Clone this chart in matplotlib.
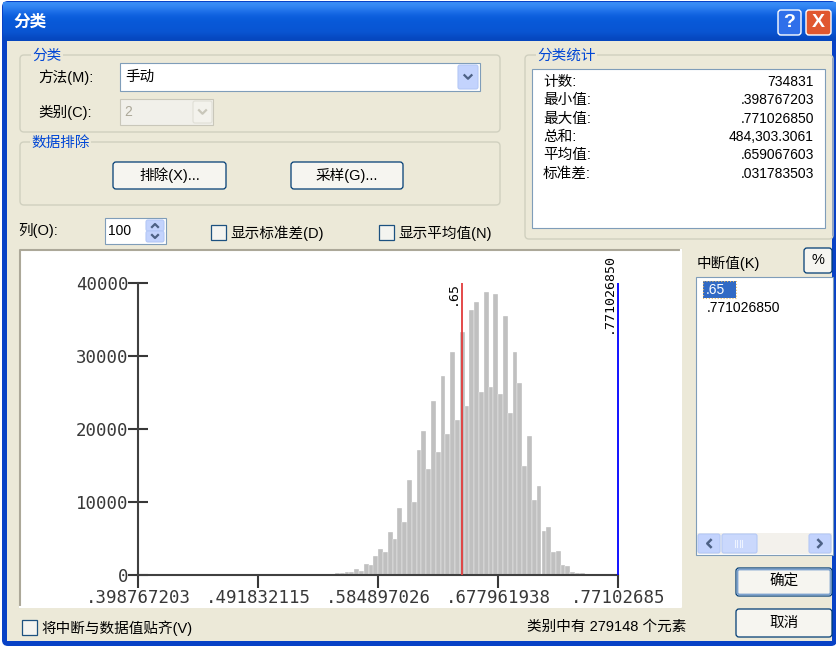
import numpy as np
import matplotlib.pyplot as plt
from matplotlib.patches import Rectangle, FancyBboxPatch
from matplotlib.transforms import blended_transform_factory, offset_copy

plt.rcParams['font.family'] = ['Liberation Sans', 'Noto Sans CJK SC']

# histogram: 100 columns between min and max
x_min = 0.398767203
x_max = 0.771026850
counts = [0] * 38 + [20, 60, 120, 230, 230, 410, 410, 780, 600, 1500, 1330, 2600,
                     3500, 3100, 5850, 4900, 9150, 7300, 13000, 10050, 17150, 19700,
                     14600, 23860, 16900, 27340, 19300, 30630, 21260, 33370, 23180, 36300,
                     37400, 25140, 38760, 25730, 38540, 24780, 35520, 22260, 30630, 26290,
                     14950, 19110, 10290, 12200, 6080, 6630, 3200, 3300, 1370, 1200,
                     460, 230, 230] + [0] * 7
xtick_labels = ['.398767203', '.491832115', '.584897026', '.677961938', '.77102685']
yticks = [0, 10000, 20000, 30000, 40000]
breaks = [0.65, 0.771026850]
break_labels = ['.65', '.771026850']
break_colors = ['#E23C3C', '#0000FF']

stat_names = ['计数:', '最小值:', '最大值:', '总和:', '平均值:', '标准差:']
stat_values = ['734831', '.398767203', '.771026850', '484,303.3061', '.659067603', '.031783503']

W, H = 837, 646
BEIGE = '#ECE9D8'
GROUP_EC = '#D0D0BF'
GROUP_TITLE = '#0046D5'
FIELD_EC = '#7F9DB9'
BTN_EC = '#003C74'
XPBTN = '#C3D3FD'

fig = plt.figure(figsize=(W / 100, H / 100), dpi=100)
fig.patch.set_facecolor('white')
bg = fig.add_axes([0, 0, 1, 1])
bg.set_xlim(0, W)
bg.set_ylim(H, 0)
bg.axis('off')


def box(x0, y0, x1, y1, fc, ec='none', lw=0.8, r=0, z=1, ls='-'):
    if r:
        p = FancyBboxPatch((x0, y0), x1 - x0, y1 - y0,
                           boxstyle="round,pad=0,rounding_size=%s" % r,
                           fc=fc, ec=ec, lw=lw, zorder=z, ls=ls)
    else:
        p = Rectangle((x0, y0), x1 - x0, y1 - y0, fc=fc, ec=ec, lw=lw, zorder=z, ls=ls)
    bg.add_patch(p)


def txt(x, y, s, size=10, color='black', ha='left', z=5, **kw):
    bg.text(x, y, s, fontsize=size, color=color, ha=ha, va='center', zorder=z, **kw)


def chevron(cx, cy, color, d='down', s=3.5):
    if d == 'down':
        bg.plot([cx - s, cx, cx + s], [cy - s / 2, cy + s / 2, cy - s / 2], color=color, lw=1.6, zorder=6)
    elif d == 'up':
        bg.plot([cx - s, cx, cx + s], [cy + s / 2, cy - s / 2, cy + s / 2], color=color, lw=1.6, zorder=6)
    elif d == 'left':
        bg.plot([cx + s / 2, cx - s / 2, cx + s / 2], [cy - s, cy, cy + s], color=color, lw=1.8, zorder=6)
    else:
        bg.plot([cx - s / 2, cx + s / 2, cx - s / 2], [cy - s, cy, cy + s], color=color, lw=1.8, zorder=6)


def button(x0, y0, x1, y1, label, default=False):
    box(x0, y0, x1, y1, '#F6F5F0', BTN_EC, lw=0.9, r=3, z=2)
    if default:
        box(x0 + 1.5, y0 + 1.5, x1 - 1.5, y1 - 1.5, 'none', '#7DA2CE', lw=1.3, r=2, z=3)
    txt((x0 + x1) / 2, (y0 + y1) / 2, label, ha='center', size=10.5)


def checkbox(x0, y0, label):
    box(x0, y0, x0 + 15, y0 + 15, '#F4F4F0', '#1C5180', lw=0.9, z=2)
    txt(x0 + 19, y0 + 8, label, size=10.5)


def group(x0, y0, x1, y1, title, tx):
    box(x0, y0, x1, y1, 'none', GROUP_EC, lw=1.0, r=4, z=1)
    bg.text(tx, y0 + 1, title, fontsize=10.5, color=GROUP_TITLE, va='center', zorder=5,
            bbox=dict(fc=BEIGE, ec='none', pad=1))


# window frame and title bar
box(2, 1, W, H, '#0842C6', r=6, z=0)
grad = np.array([[0x3A, 0x8E, 0xF6], [0x22, 0x74, 0xEC], [0x0B, 0x5E, 0xDD], [0x08, 0x59, 0xD8],
                 [0x08, 0x57, 0xD6], [0x0A, 0x55, 0xD2], [0x06, 0x46, 0xBE]]) / 255.0
bg.imshow(grad[:, None, :], extent=(3, W, 41, 2), aspect='auto', interpolation='bicubic', zorder=0.5)
bg.set_xlim(0, W)
bg.set_ylim(H, 0)
box(7, 41, 832, 641, BEIGE, z=0.6)
txt(13, 22, '分类', size=12, color='white', weight='bold')
box(778, 10, 801, 35, '#2F6FEA', 'white', lw=1.0, r=3, z=2)
txt(789.5, 22.5, '?', size=14, color='white', ha='center', weight='bold')
box(806, 10, 831, 35, '#E0572F', 'white', lw=1.0, r=3, z=2)
txt(818.5, 22.5, 'X', size=14, color='white', ha='center', weight='bold')

# classification group
group(20, 55, 500, 132, '分类', 32)
txt(38, 77, '方法(M):', size=10.5)
box(120, 63, 480, 91, 'white', FIELD_EC, z=2)
txt(125, 77, '手动', size=10.5)
box(458, 65, 478, 89, XPBTN, '#B4C8F6', r=2, z=3)
chevron(468, 77, '#4D6185')
txt(38, 112, '类别(C):', size=10.5)
box(120, 99, 213, 125, '#F1F0EA', '#C9C7BA', z=2)
txt(124, 112, '2', size=10, color='#ACA899')
box(193, 101, 212, 123, '#F3F2EC', '#E0DFD6', r=2, z=3)
chevron(202.5, 112, '#C9C7BA')

# data exclusion group
group(20, 142, 500, 205, '数据排除', 31)
button(113, 162, 226, 189, '排除(X)...')
button(291, 162, 403, 189, '采样(G)...')

# columns and check boxes
txt(18, 231, '列(O):', size=10.5)
box(105, 218, 166, 244, 'white', FIELD_EC, z=2)
txt(108, 231, '100', size=10)
box(146, 220, 164, 231, XPBTN, '#B4C8F6', r=2, z=3)
box(146, 231, 164, 242, XPBTN, '#B4C8F6', r=2, z=3)
chevron(155, 225.5, '#4D6185', 'up', 3)
chevron(155, 236.5, '#4D6185', 'down', 3)
checkbox(211, 225, '显示标准差(D)')
checkbox(379, 225, '显示平均值(N)')

# statistics group
group(525, 55, 833, 239, '分类统计', 537)
box(532, 69, 825, 228, 'white', FIELD_EC, z=2)
for i, (n, v) in enumerate(zip(stat_names, stat_values)):
    y = 82 + i * 18.3
    txt(543, y, n, size=10.5)
    txt(814, y, v, size=10, ha='right')

# histogram panel
box(20, 250, 681, 607, 'white', z=1)
bg.plot([20, 20, 681], [607, 250, 250], color='#ACA899', lw=1.5, zorder=2)
bg.plot([20, 681, 681], [607, 607, 250], color='#FFFFFF', lw=1.5, zorder=2)

# breaks list
txt(697, 263, '中断值(K)', size=10.5)
box(804, 248, 832, 273, '#F6F5F0', BTN_EC, lw=0.9, r=3, z=2)
txt(818, 260.5, '%', size=10.5, ha='center')
box(696, 277, 833, 555, 'white', FIELD_EC, z=2)
box(703, 281, 736, 298, '#316AC5', z=3)
box(703, 281, 736, 298, 'none', '#E8B860', lw=0.8, z=4, ls=':')
txt(706, 289.5, break_labels[0], size=10, color='white')
txt(707, 308, break_labels[1], size=10)
box(697, 533, 832, 554, '#F3F1EC', z=3)
box(698, 534, 720, 553, XPBTN, '#B4C8F6', r=2, z=4)
chevron(709, 543.5, '#4D6185', 'left', 3.5)
box(722, 534, 757, 553, '#CAD8FC', '#B4C8F6', r=2, z=4)
for gx in [735, 737.5, 740, 742.5]:
    bg.plot([gx, gx], [540, 547], color='#EEF3FF', lw=0.8, zorder=5)
box(809, 534, 831, 553, XPBTN, '#B4C8F6', r=2, z=4)
chevron(820, 543.5, '#4D6185', 'right', 3.5)

button(736, 568, 832, 596, '确定', default=True)
button(736, 609, 832, 637, '取消')

# bottom line
checkbox(22, 620, '将中断与数据值贴齐(V)')
txt(686, 627, '类别中有 279148 个元素', size=10.5, ha='right')

# histogram axes
ax_l, ax_r, ax_t, ax_b = 138.3, 618.3, 283.3, 575.0
ax = fig.add_axes([ax_l / W, 1 - ax_b / H, (ax_r - ax_l) / W, (ax_b - ax_t) / H])
ax.patch.set_visible(False)

binw = (x_max - x_min) / len(counts)
edges = x_min + binw * np.arange(len(counts))
ax.bar(edges, counts, width=binw, align='edge', color='#C0C0C0',
       edgecolor='white', linewidth=0.25, zorder=2)

for b, c in zip(breaks, break_colors):
    ax.vlines(b, 0, 40000, color=c, lw=1.3, zorder=3, clip_on=False)

trans = blended_transform_factory(ax.transData, ax.transAxes)
ax.text(breaks[0], 0.926, break_labels[0], rotation=90, ha='right', va='bottom',
        fontsize=9.5, family='DejaVu Sans Mono', transform=offset_copy(trans, fig, x=-3, units='dots'))
ax.text(breaks[1], 0.83, break_labels[1], rotation=90, ha='right', va='bottom',
        fontsize=9.5, family='DejaVu Sans Mono', transform=offset_copy(trans, fig, x=-3, units='dots'))

ax.set_xlim(x_min, x_max)
ax.set_ylim(0, 40000)
ax.set_xticks(x_min + binw * 25 * np.arange(5))
ax.set_xticklabels(xtick_labels)
ax.set_yticks(yticks)
ax.set_yticklabels([str(v) for v in yticks])
ax.tick_params(axis='x', direction='out', length=9, width=1.5, pad=1, labelsize=12.5,
               colors='#383838', labelfontfamily='DejaVu Sans Mono')
ax.tick_params(axis='y', direction='inout', length=14, width=1.5, pad=0, labelsize=12.5,
               colors='#383838', labelfontfamily='DejaVu Sans Mono')
for s in ['top', 'right']:
    ax.spines[s].set_visible(False)
for s in ['left', 'bottom']:
    ax.spines[s].set_color('#404040')
    ax.spines[s].set_linewidth(1.5)

fig.savefig('out.png', dpi=100)
